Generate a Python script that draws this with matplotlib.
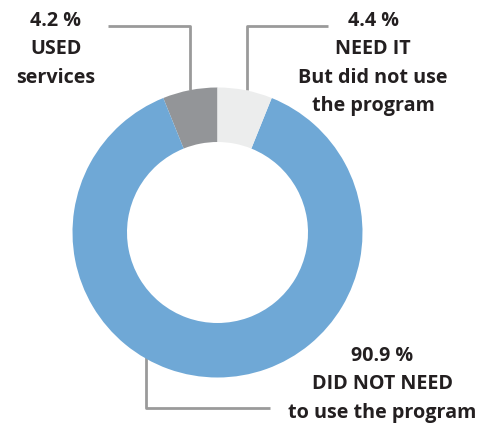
import matplotlib
matplotlib.use("Agg")
import matplotlib.pyplot as plt

# Data (slice sizes as drawn; labels as printed)
categories = ["USED services", "DID NOT NEED to use the program", "NEED IT But did not use the program"]
slice_values = [6.1, 87.8, 6.1]
label_pcts = ["4.2 %", "90.9 %", "4.4 %"]
slice_colors = ["#939598", "#6FA8D6", "#ECEDED"]

W, H = 489, 425
fig = plt.figure(figsize=(W / 100, H / 100), dpi=100)
ax = fig.add_axes([0, 0, 1, 1])
ax.set_xlim(0, W)
ax.set_ylim(0, H)

def Y(y):
    return H - y

cx, cy, R = 217.5, 232.5, 145
ax.pie(slice_values, colors=slice_colors, startangle=90, counterclock=True,
       center=(cx, Y(cy)), radius=R, frame=True,
       wedgeprops=dict(width=R - 90.5, linewidth=0))
ax.set_xlim(0, W)
ax.set_ylim(0, H)
ax.set_aspect("equal")
ax.axis("off")

lc = "#9A9A9A"
lw = 2.0
# left leader
ax.plot([108, 190, 190], [Y(26), Y(26), Y(90)], color=lc, lw=lw, solid_capstyle="butt", zorder=0)
# right leader
ax.plot([328, 247, 247], [Y(26), Y(26), Y(90)], color=lc, lw=lw, solid_capstyle="butt", zorder=0)
# bottom leader
ax.plot([146, 146, 270], [Y(357), Y(407.5), Y(407.5)], color=lc, lw=lw, solid_capstyle="butt", zorder=0)

tc = "#231F20"
fkw = dict(family=["Open Sans", "DejaVu Sans"], fontweight="bold", fontsize=14.2,
           color=tc, ha="center", va="center")

left_lines = [label_pcts[0], "USED", "services"]
for i, t in enumerate(left_lines):
    ax.text(56, Y(21 + i * 28.3), t, **fkw)

right_lines = [label_pcts[2], "NEED IT", "But did not use", "the program"]
for i, t in enumerate(right_lines):
    ax.text(373, Y(21 + i * 28.3), t, **fkw)

bottom_lines = [label_pcts[1], "DID NOT NEED", "to use the program"]
for i, t in enumerate(bottom_lines):
    ax.text(382, Y(356 + i * 28.3), t, **fkw)

fig.savefig("out.png", dpi=100)
